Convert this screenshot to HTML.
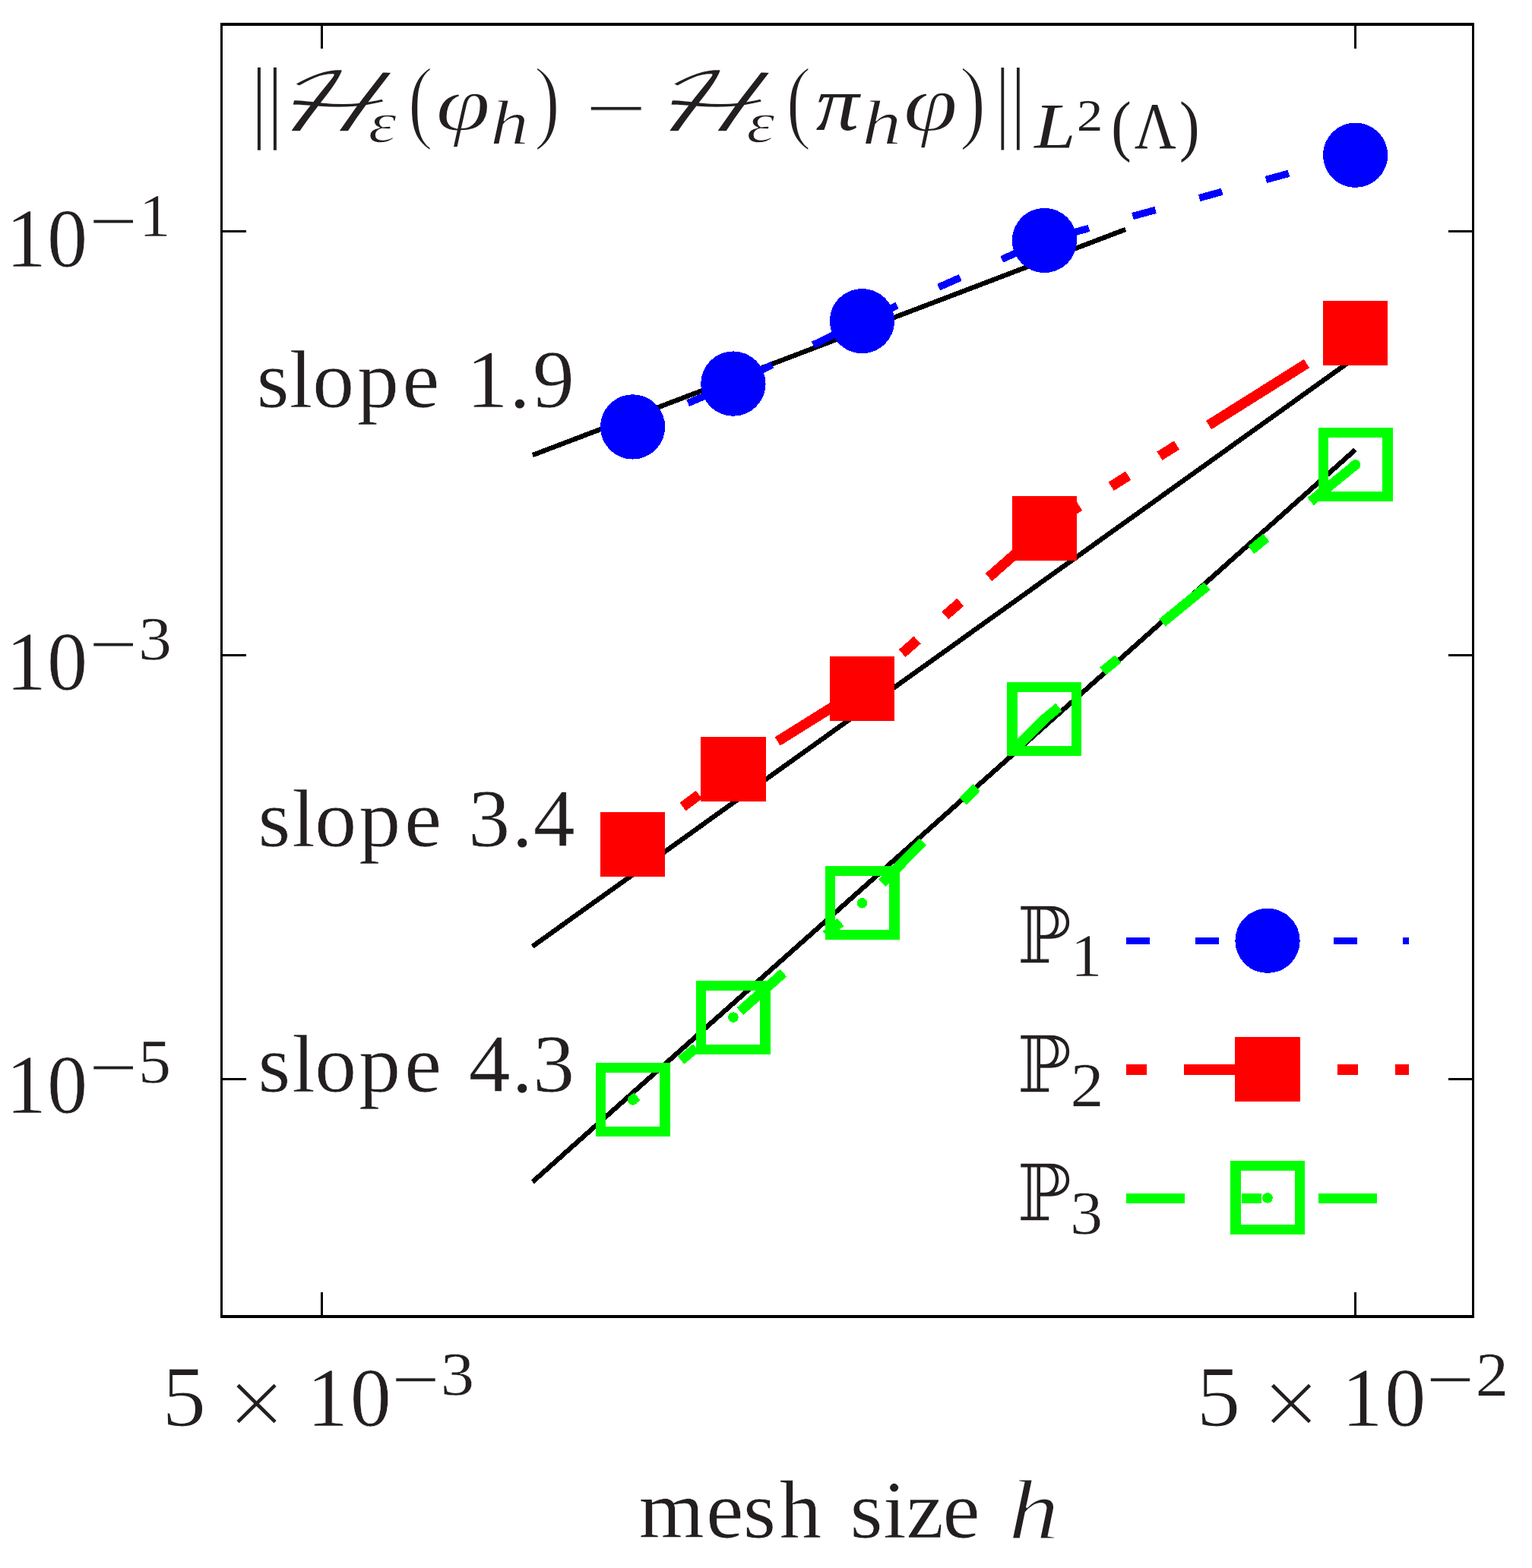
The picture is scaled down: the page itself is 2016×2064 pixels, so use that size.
<!DOCTYPE html>
<html lang="en">
<head>
<meta charset="utf-8">
<title>Convergence plot</title>
<style>
html,body{margin:0;padding:0;background:#fff;}
body{width:2016px;height:2064px;}
svg{display:block;}
text{white-space:pre;}
</style>
</head>
<body>
<svg width="2016" height="2064" viewBox="0 0 2016 2064">
<rect width="2016" height="2064" fill="#fff"/>
<g shape-rendering="crispEdges">
<g stroke="#000" stroke-width="6.4" fill="none">
<line x1="700.8" y1="599.1" x2="1481.1" y2="302"/>
<line x1="700.7" y1="1245.8" x2="1783.5" y2="470.6"/>
<line x1="700.8" y1="1555.8" x2="1783.5" y2="592"/>
</g>
<g fill="#000">
<rect x="290" y="30" width="1650" height="4"/>
<rect x="290" y="1731" width="1650" height="4"/>
<rect x="290" y="30" width="3" height="1705"/>
<rect x="1937" y="30" width="3" height="1705"/>
<rect x="422" y="34" width="3" height="30"/>
<rect x="422" y="1701" width="3" height="30"/>
<rect x="1782" y="34" width="3" height="30"/>
<rect x="1782" y="1701" width="3" height="30"/>
<rect x="293" y="303" width="31" height="3"/>
<rect x="1906" y="303" width="31" height="3"/>
<rect x="293" y="861" width="31" height="3"/>
<rect x="1906" y="861" width="31" height="3"/>
<rect x="293" y="1419" width="31" height="3"/>
<rect x="1906" y="1419" width="31" height="3"/>
</g>
<g stroke="#0000ff" fill="none" stroke-width="9.4">
<polyline points="1783.6,204.2 1374.45,316.5 1134.5,422.6 964.9,505.1 832.6,561.9" stroke-dasharray="31.2 59.7"/>
<line x1="1482" y1="1238.5" x2="1854" y2="1238.5" stroke-dasharray="31.4 59.6"/>
</g>
<g fill="#0000ff">
<circle cx="1783.6" cy="204.2" r="42.65"/>
<circle cx="1374.45" cy="316.5" r="42.65"/>
<circle cx="1134.5" cy="422.6" r="42.65"/>
<circle cx="964.9" cy="505.1" r="42.65"/>
<circle cx="832.6" cy="561.9" r="42.65"/>
<circle cx="1668" cy="1238.3" r="42.65"/>
</g>
<g stroke="#ff0000" fill="none" stroke-width="13.4">
<polyline points="1783.6,438.3 1374.45,695.4 1134.5,906.3 964.9,1012.4 832.6,1111.2" stroke-dasharray="26.6 49.1 152.2 49.7 26.6 48.8"/>
<line x1="1482" y1="1408" x2="1854" y2="1408" stroke-dasharray="26.8 49.2 152.4 49.9 26.8 48.8"/>
</g>
<g fill="#ff0000">
<rect x="1740.95" y="395.65" width="85.3" height="85.3"/>
<rect x="1331.8" y="652.75" width="85.3" height="85.3"/>
<rect x="1091.85" y="863.65" width="85.3" height="85.3"/>
<rect x="922.25" y="969.75" width="85.3" height="85.3"/>
<rect x="789.95" y="1068.55" width="85.3" height="85.3"/>
<rect x="1625.35" y="1364.55" width="85.3" height="85.3"/>
</g>
<g stroke="#00ff00" fill="none" stroke-width="13">
<polyline points="1783.6,611.9 1374.45,946.4 1134.5,1188.9 964.9,1339.1 832.6,1447.9" stroke-dasharray="76.2 75.2 25.8 74.8"/>
<line x1="1482" y1="1577.5" x2="1854" y2="1577.5" stroke-dasharray="76.6 75.4 26 75"/>
</g>
<g fill="#00ff00" fill-rule="evenodd">
<path d="M1734.6 563.4h98v97h-98z M1748.1 576.4h71v71h-71z"/>
<path d="M1325.45 897.9h98v97h-98z M1338.95 910.9h71v71h-71z"/>
<path d="M1085.5 1140.4h98v97h-98z M1099 1153.4h71v71h-71z"/>
<path d="M915.9 1290.6h98v97h-98z M929.4 1303.6h71v71h-71z"/>
<path d="M783.6 1399.4h98v97h-98z M797.1 1412.4h71v71h-71z"/>
<path d="M1619 1528.4h98v97h-98z M1632.5 1541.4h71v71h-71z"/>
</g>
<g fill="#00ff00">
<circle cx="1783.6" cy="611.9" r="6.8"/>
<circle cx="1374.45" cy="946.4" r="6.8"/>
<circle cx="1134.5" cy="1188.9" r="6.8"/>
<circle cx="964.9" cy="1339.1" r="6.8"/>
<circle cx="832.6" cy="1447.9" r="6.8"/>
<circle cx="1668" cy="1576.9" r="6.8"/>
</g>
</g>
<g fill="#231f20">
<text transform="scale(1.0114 1)" x="333.83 376.57 406.54 464.68 523.54 571.7 606.93 662.74 693.11" y="536.2" font-family='"Liberation Serif", serif' font-size="108.5" stroke="#fff" stroke-width="0.59" xml:space="preserve">slope 1.9</text>
<text transform="scale(1.0131 1)" x="335.15 379.25 408.81 466.21 525.37 573.53 608.4 664.69 692.77" y="1113.7" font-family='"Liberation Serif", serif' font-size="108.5" stroke="#fff" stroke-width="0.59" xml:space="preserve">slope 3.4</text>
<text transform="scale(1.0128 1)" x="335.26 379.38 408.95 466.38 525.55 573.71 608.88 664.91 692.49" y="1437.1" font-family='"Liberation Serif", serif' font-size="108.5" stroke="#fff" stroke-width="0.59" xml:space="preserve">slope 4.3</text>
<text transform="scale(1.0192 1)" x="825.04 911.65 959.48 1006.46 1060.71 1097.34 1140.04 1170.19 1217.05" y="2024" font-family='"Liberation Serif", serif' font-size="108.5" stroke="#fff" stroke-width="0.59" xml:space="preserve">mesh size</text>
<text transform="translate(1327.07 2025.93) scale(1.3377 1.1308)" font-family='"Liberation Serif", serif' font-size="100" font-style="italic" stroke="#fff" stroke-width="1.64">h</text>
<text transform="scale(0.9711 1)" x="8.02 63.87" y="351" font-family='"Liberation Serif", serif' font-size="109.5" stroke="#fff" stroke-width="0.62" xml:space="preserve">10</text><text transform="translate(116.93 324.82) scale(1.1390 1.0186)" font-family='"Liberation Serif", serif' font-size="100" stroke="#fff" stroke-width="1.05">−</text><text transform="translate(183.31 311.4) scale(0.8181 0.8119)" font-family='"Liberation Serif", serif' font-size="100" stroke="#fff" stroke-width="0.49">1</text>
<text transform="scale(0.9711 1)" x="8.02 63.87" y="907.8" font-family='"Liberation Serif", serif' font-size="109.5" stroke="#fff" stroke-width="0.62" xml:space="preserve">10</text><text transform="translate(116.93 881.62) scale(1.1390 1.0186)" font-family='"Liberation Serif", serif' font-size="100" stroke="#fff" stroke-width="1.05">−</text><text transform="translate(182.33 868.39) scale(0.8715 0.8122)" font-family='"Liberation Serif", serif' font-size="100" stroke="#fff" stroke-width="0.46">3</text>
<text transform="scale(0.9711 1)" x="8.02 63.87" y="1464.8" font-family='"Liberation Serif", serif' font-size="109.5" stroke="#fff" stroke-width="0.62" xml:space="preserve">10</text><text transform="translate(116.93 1438.62) scale(1.1390 1.0186)" font-family='"Liberation Serif", serif' font-size="100" stroke="#fff" stroke-width="1.05">−</text><text transform="translate(182.01 1425.39) scale(0.8589 0.8213)" font-family='"Liberation Serif", serif' font-size="100" stroke="#fff" stroke-width="0.47">5</text>
<text transform="translate(213.16 1877.18) scale(1.1593 1.1419)" font-family='"Liberation Serif", serif' font-size="100" stroke="#fff" stroke-width="1.04">5</text><text transform="translate(299.36 1892.19) scale(1.3571 1.3351)" font-family='"Liberation Serif", serif' font-size="100" stroke="#fff" stroke-width="1.47">×</text><text transform="scale(0.9875 1)" x="409.21 466.68" y="1876.7" font-family='"Liberation Serif", serif' font-size="109.5" stroke="#fff" stroke-width="0.61" xml:space="preserve">10</text><text transform="translate(515.06 1849.87) scale(1.1325 1.0202)" font-family='"Liberation Serif", serif' font-size="100" stroke="#fff" stroke-width="1.06">−</text><text transform="translate(579.76 1836.19) scale(0.8860 0.8062)" font-family='"Liberation Serif", serif' font-size="100" stroke="#fff" stroke-width="0.45">3</text>
<text transform="translate(1574.56 1877.18) scale(1.1593 1.1419)" font-family='"Liberation Serif", serif' font-size="100" stroke="#fff" stroke-width="1.04">5</text><text transform="translate(1660.76 1892.19) scale(1.3571 1.3351)" font-family='"Liberation Serif", serif' font-size="100" stroke="#fff" stroke-width="1.47">×</text><text transform="scale(0.9875 1)" x="1787.79 1845.26" y="1876.7" font-family='"Liberation Serif", serif' font-size="109.5" stroke="#fff" stroke-width="0.61" xml:space="preserve">10</text><text transform="translate(1876.46 1849.87) scale(1.1325 1.0202)" font-family='"Liberation Serif", serif' font-size="100" stroke="#fff" stroke-width="1.06">−</text><text transform="translate(1941.7 1836.99) scale(0.8656 0.8183)" font-family='"Liberation Serif", serif' font-size="100" stroke="#fff" stroke-width="0.46">2</text>
<text transform="translate(1334.93 1268.45) scale(0.9588 1.0426)" font-family='"DejaVu Math TeX Gyre", "DejaVu Serif", "DejaVu Sans", serif' font-size="100" stroke="#fff" stroke-width="1.25">ℙ</text>
<text transform="translate(1409.33 1285.3) scale(0.8152 0.8134)" font-family='"Liberation Serif", serif' font-size="100" stroke="#fff" stroke-width="0.49">1</text>
<text transform="translate(1334.93 1437.85) scale(0.9588 1.0426)" font-family='"DejaVu Math TeX Gyre", "DejaVu Serif", "DejaVu Sans", serif' font-size="100" stroke="#fff" stroke-width="1.25">ℙ</text>
<text transform="translate(1408.53 1455.69) scale(0.8806 0.8258)" font-family='"Liberation Serif", serif' font-size="100" stroke="#fff" stroke-width="0.45">2</text>
<text transform="translate(1334.93 1607.25) scale(0.9588 1.0426)" font-family='"DejaVu Math TeX Gyre", "DejaVu Serif", "DejaVu Sans", serif' font-size="100" stroke="#fff" stroke-width="1.25">ℙ</text>
<text transform="translate(1408.31 1624.3) scale(0.8545 0.8139)" font-family='"Liberation Serif", serif' font-size="100" stroke="#fff" stroke-width="0.47">3</text>
<text transform="translate(321.99 200.25) scale(2.0953 1.6386)" font-family='"Liberation Serif", serif' font-size="100" stroke="#fff" stroke-width="2.86">‖</text>
<text transform="translate(347.57 173.19) skewX(-24) scale(1.5465 1.0663)" font-family='"DejaVu Math TeX Gyre", "DejaVu Serif", "DejaVu Sans", serif' font-size="100" stroke="#fff" stroke-width="1.68">ℋ</text>
<text transform="translate(484.46 187.3) scale(0.9473 0.7650)" font-family='"Liberation Serif", serif' font-size="100" font-style="italic" stroke="#fff" stroke-width="1.69">ε</text>
<text transform="translate(536.39 173.02) scale(1.0045 1.2319)" font-family='"Liberation Serif", serif' font-size="100" stroke="#fff" stroke-width="2.19">(</text>
<text transform="translate(573.21 171.9) scale(1.3062 1.0474)" font-family='"Liberation Serif", serif' font-size="100" font-style="italic" stroke="#fff" stroke-width="1.53">φ</text>
<text transform="translate(645.26 189.27) scale(1.0086 0.8192)" font-family='"Liberation Serif", serif' font-size="100" font-style="italic" stroke="#fff" stroke-width="1.39">h</text>
<text transform="translate(702.85 173) scale(1.0396 1.2308)" font-family='"Liberation Serif", serif' font-size="100" stroke="#fff" stroke-width="2.12">)</text>
<text transform="translate(769.82 175.02) scale(1.4420 0.9643)" font-family='"Liberation Serif", serif' font-size="100" stroke="#fff" stroke-width="0.83">−</text>
<text transform="translate(845.37 173.19) skewX(-24) scale(1.5465 1.0663)" font-family='"DejaVu Math TeX Gyre", "DejaVu Serif", "DejaVu Sans", serif' font-size="100" stroke="#fff" stroke-width="1.68">ℋ</text>
<text transform="translate(982.26 187.3) scale(0.9473 0.7650)" font-family='"Liberation Serif", serif' font-size="100" font-style="italic" stroke="#fff" stroke-width="1.69">ε</text>
<text transform="translate(1034.19 173.02) scale(1.0045 1.2319)" font-family='"Liberation Serif", serif' font-size="100" stroke="#fff" stroke-width="2.19">(</text>
<text transform="translate(1073.69 170.9) scale(1.1301 1.0261)" font-family='"Liberation Serif", serif' font-size="100" font-style="italic">π</text>
<text transform="translate(1134.48 189.26) scale(1.0299 0.8188)" font-family='"Liberation Serif", serif' font-size="100" font-style="italic" stroke="#fff" stroke-width="1.36">h</text>
<text transform="translate(1188.42 171.9) scale(1.3022 1.0475)" font-family='"Liberation Serif", serif' font-size="100" font-style="italic" stroke="#fff" stroke-width="1.54">φ</text>
<text transform="translate(1262.5 172.99) scale(1.0551 1.2304)" font-family='"Liberation Serif", serif' font-size="100" stroke="#fff" stroke-width="2.09">)</text>
<text transform="translate(1300.76 200.29) scale(2.0548 1.6400)" font-family='"Liberation Serif", serif' font-size="100" stroke="#fff" stroke-width="2.92">‖</text>
<text transform="translate(1361.34 194.7) scale(0.9740 0.8415)" font-family='"Liberation Serif", serif' font-size="100" font-style="italic">L</text>
<text transform="translate(1417 171.9) scale(0.6835 0.5951)" font-family='"Liberation Serif", serif' font-size="100">2</text>
<text transform="translate(1462.31 195.48) scale(0.7943 0.8889)" font-family='"Liberation Serif", serif' font-size="100">(</text>
<text transform="translate(1492.86 194.7) scale(0.7602 0.8740)" font-family='"Liberation Serif", serif' font-size="100">Λ</text>
<text transform="translate(1551.93 195.48) scale(0.7982 0.8889)" font-family='"Liberation Serif", serif' font-size="100">)</text>
</g>
</svg>
</body>
</html>
